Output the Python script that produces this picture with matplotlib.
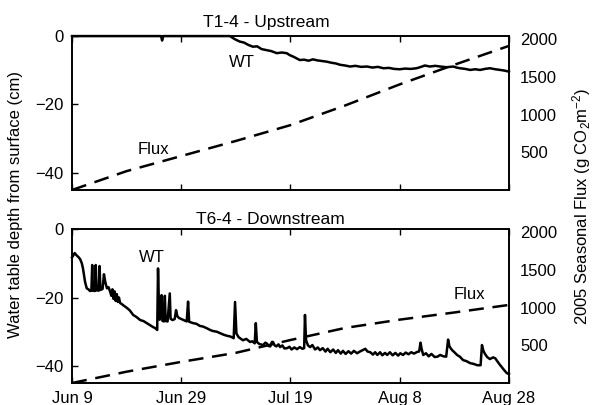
import matplotlib
matplotlib.use("Agg")
import matplotlib.pyplot as plt

plt.rcParams['font.family'] = ['Liberation Sans', 'DejaVu Sans']
plt.rcParams['mathtext.default'] = 'regular'
plt.rcParams['font.size'] = 12

# days since Jun 9
tick_days = [0, 20, 40, 60, 80]
tick_labels = ["Jun 9", "Jun 29", "Jul 19", "Aug 8", "Aug 28"]

# T1-4 upstream water table (day, cm below surface)
wt_up = [
    (0, 0), (16.3, 0), (16.5, -1.3), (16.7, 0), (28.9, 0), (29.8, -0.9), (30.7, -1.6),
    (31.5, -1.9), (32.3, -2.6), (33.1, -3.1), (33.9, -3.0), (34.7, -3.8), (35.6, -4.1),
    (36.5, -4.4), (37.5, -5.0), (38.4, -4.8), (39.3, -5.0), (39.9, -5.6), (40.5, -6.0),
    (41.1, -6.5), (41.7, -7.0), (42.5, -6.9), (43.3, -7.2), (44.1, -6.8), (44.9, -7.1),
    (45.8, -7.3), (46.7, -7.5), (47.5, -7.8), (48.3, -8.0), (49.1, -8.4), (50.0, -8.6),
    (50.9, -8.9), (51.9, -8.7), (52.9, -9.0), (54.0, -8.9), (55.0, -9.2), (56.0, -9.0),
    (57.0, -9.4), (58.0, -9.3), (59.0, -9.6), (60.0, -9.7), (61.0, -9.5), (62.0, -9.6),
    (63.1, -9.4), (63.9, -9.0), (64.6, -8.6), (65.5, -8.9), (66.5, -8.7), (67.4, -8.9),
    (68.6, -9.1), (69.8, -8.9), (70.4, -9.2), (71.0, -9.4), (72.0, -9.6), (72.9, -9.9),
    (73.8, -9.7), (74.7, -9.9), (75.6, -9.6), (76.5, -9.4), (77.5, -9.7), (78.4, -9.9),
    (79.2, -10.1), (80.0, -10.4),
]

# T6-4 downstream water table (day, cm below surface)
wt_down = [
    (0.0, -8.3), (0.2, -7.8), (0.5, -7.0), (0.8, -7.6), (1.2, -8.2), (1.5, -8.8),
    (1.8, -10.0), (2.0, -11.4), (2.2, -13.5), (2.4, -15.5), (2.7, -17.3), (3.0, -17.6),
    (3.3, -18.1), (3.55, -18.0), (3.7, -10.5), (3.85, -18.0), (4.2, -18.1), (4.35, -10.5),
    (4.5, -17.9), (4.9, -18.0), (5.05, -10.8), (5.2, -17.8), (5.6, -17.5), (5.85, -13.2),
    (6.1, -15.5), (6.4, -17.3), (6.7, -17.0), (7.0, -18.4), (7.2, -19.5), (7.4, -17.6),
    (7.6, -20.4), (7.8, -18.2), (8.0, -21.0), (8.2, -19.0), (8.4, -21.3), (8.6, -20.0),
    (8.8, -21.6), (9.1, -21.9), (9.5, -22.4), (10.1, -23.1), (10.6, -23.8), (11.2, -25.1),
    (11.8, -25.7), (12.5, -26.6), (13.1, -26.9), (13.7, -27.5), (14.2, -28.0),
    (14.8, -28.6), (15.3, -29.0), (15.6, -29.5), (15.75, -11.5), (15.9, -21.0),
    (16.05, -26.5), (16.2, -24.0), (16.4, -19.3), (16.55, -26.8), (16.8, -27.0),
    (17.0, -19.5), (17.15, -26.9), (17.5, -27.0), (17.9, -18.8), (18.05, -26.2),
    (18.4, -26.6), (18.8, -26.3), (19.05, -23.7), (19.3, -25.5), (19.6, -26.0),
    (20.3, -26.5), (21.0, -27.0), (21.25, -21.2), (21.45, -27.1), (21.8, -27.3),
    (22.2, -27.5), (22.8, -27.7), (23.4, -28.3), (24.0, -28.5), (24.7, -29.0),
    (25.3, -29.5), (25.8, -29.8), (26.5, -30.0), (27.1, -30.4), (27.8, -30.9),
    (28.4, -31.2), (29.0, -31.4), (29.6, -31.9), (29.85, -21.3), (30.1, -30.5),
    (30.5, -31.6), (31.3, -32.5), (31.9, -32.1), (32.6, -33.0), (33.0, -32.8),
    (33.45, -33.4), (33.65, -27.5), (33.85, -33.0), (34.3, -33.6), (35.0, -33.9),
    (35.4, -33.2), (35.7, -33.5), (36.0, -34.2), (36.3, -34.3), (36.6, -33.0),
    (36.8, -33.0), (37.1, -34.0), (37.4, -34.3), (37.8, -33.7), (38.1, -34.5),
    (38.5, -34.0), (38.9, -34.9), (39.4, -34.8), (39.8, -34.4), (40.2, -35.2),
    (40.7, -34.6), (41.2, -35.1), (41.7, -34.5), (42.2, -35.0), (42.5, -34.8),
    (42.65, -25.1), (42.85, -32.5), (43.2, -34.0), (43.6, -34.5), (44.0, -33.9),
    (44.5, -35.2), (45.0, -34.6), (45.4, -35.4), (45.9, -34.8), (46.4, -35.8),
    (46.8, -35.0), (47.3, -36.0), (47.8, -35.2), (48.3, -36.2), (48.7, -35.4),
    (49.2, -36.4), (49.6, -35.6), (50.1, -36.5), (50.6, -35.7), (51.1, -36.4),
    (51.6, -35.6), (52.2, -36.3), (52.7, -35.8), (53.2, -35.4), (53.7, -35.0),
    (54.1, -35.8), (54.6, -36.0), (55.1, -36.7), (55.5, -36.0), (55.9, -36.8),
    (56.4, -36.0), (56.8, -36.9), (57.3, -36.2), (57.7, -36.8), (58.2, -36.0),
    (58.7, -36.9), (59.2, -36.2), (59.7, -37.0), (60.1, -36.3), (60.6, -36.8),
    (61.1, -36.1), (61.6, -36.6), (62.1, -36.0), (62.6, -36.4), (63.2, -35.9),
    (63.55, -35.8), (63.8, -33.2), (64.0, -35.0), (64.3, -36.8), (64.8, -36.3),
    (65.3, -37.2), (65.8, -36.5), (66.4, -37.4), (66.9, -37.3), (67.4, -36.8),
    (68.0, -37.2), (68.5, -37.3), (68.85, -32.3), (69.1, -34.3), (69.4, -35.0),
    (69.6, -35.4), (70.0, -36.0), (70.5, -36.8), (71.0, -37.3), (71.6, -38.3),
    (72.2, -38.6), (72.9, -39.2), (73.5, -39.4), (74.2, -39.8), (74.8, -39.8),
    (75.05, -33.9), (75.3, -35.5), (75.6, -36.5), (76.0, -37.4), (76.5, -38.0),
    (77.1, -37.5), (77.5, -37.8), (77.8, -38.5), (78.3, -39.6), (78.8, -40.6),
    (79.2, -41.4), (79.6, -42.1), (80.0, -42.4),
]

# cumulative seasonal flux, g CO2 m-2
flux_days = [0, 10, 20, 30, 40, 50, 60, 70, 80]
flux_up = [0, 250, 450, 650, 860, 1120, 1400, 1660, 1910]
flux_down = [0, 150, 280, 400, 570, 730, 840, 935, 1035]

fig = plt.figure(figsize=(5.92, 4.05), dpi=100)


def panel(rect, wt, flux, title, title_x, title_pad, wt_xy, flux_xy, bottom):
    ax = fig.add_axes(rect)
    d, w = zip(*wt)
    ax.plot(d, w, color='k', lw=1.8, clip_on=False, zorder=3)
    ax.set_xlim(0, 80)
    ax.set_ylim(-45, 0)
    ax.set_yticks([-40, -20, 0])
    ax.set_xticks(tick_days)
    if bottom:
        ax.set_xticklabels(tick_labels)
    else:
        ax.set_xticklabels([])
    ax.tick_params(direction='in', length=4, width=1, top=True, right=True, pad=6)
    for s in ax.spines.values():
        s.set_linewidth(1.2)
    ax.set_title(title, fontsize=12.5, pad=title_pad, x=title_x)
    ax.text(*wt_xy, "WT", ha='center', va='center')

    ax2 = ax.twinx()
    ax2.plot(flux_days, flux, color='k', lw=1.8, dashes=(6, 3.5))
    ax2.set_ylim(0, 2040)
    ax2.set_yticks([500, 1000, 1500, 2000])
    ax2.tick_params(length=0, pad=8)
    for s in ax2.spines.values():
        s.set_linewidth(1.2)
    ax.text(*flux_xy, "Flux", ha='center', va='center')
    return ax


panel([0.1216, 0.5309, 0.7382, 0.380], wt_up, flux_up, "T1-4 - Upstream", 0.444, 6.5,
      (31.1, -7.7), (14.9, -33.1), False)
panel([0.1216, 0.0543, 0.7382, 0.380], wt_down, flux_down, "T6-4 - Downstream", 0.453, 4,
      (14.6, -8.3), (72.7, -19.0), True)

fig.text(0.027, 0.495, "Water table depth from surface (cm)", rotation=90,
         ha='center', va='center')
fig.text(0.982, 0.49, "2005 Seasonal Flux (g CO$_2$m$^{-2}$)", rotation=90,
         ha='center', va='center')

fig.savefig("out.png", dpi=100)
